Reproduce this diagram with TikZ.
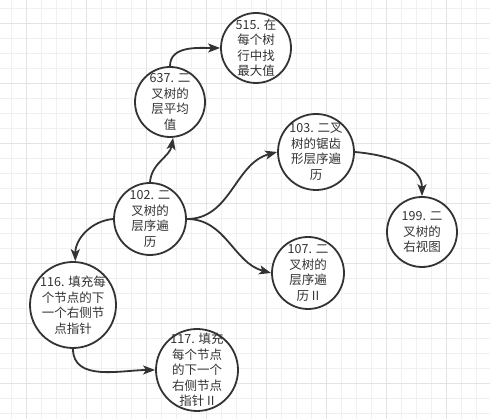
\documentclass[tikz,border=0pt]{standalone}
\usepackage{fontspec}
\newfontfamily\cjk{Noto Sans CJK SC}
\usetikzlibrary{arrows.meta}
\begin{document}
\begin{tikzpicture}[x=1pt,y=1pt,>={Stealth[length=12pt,width=9pt,inset=3pt]},
	vong/.style={circle,draw=black!80,line width=1.8pt,fill=white,inner sep=0pt,minimum size=#1},
	chu/.style={align=center,text=black!80,font=\cjk\fontsize{12.5}{15.5}\selectfont},
	noi/.style={->,draw=black!80,line width=1.8pt}]
	% nền lưới
	\fill[white] (0,0) rectangle (490,419);
	\useasboundingbox (0,0) rectangle (490,419);
	\foreach \i in {0,...,31} \draw[color=black!6,line width=1pt] ({11.7+15*\i},0) -- ({11.7+15*\i},419);
	\foreach \j in {0,...,27} \draw[color=black!6,line width=1pt] (0,{410.7-15*\j}) -- (490,{410.7-15*\j});
	\foreach \i in {0,...,7} \draw[color=black!11,line width=1pt] ({26.7+60*\i},0) -- ({26.7+60*\i},419);
	\foreach \j in {0,...,6} \draw[color=black!11,line width=1pt] (0,{395.7-60*\j}) -- (490,{395.7-60*\j});
	% các nút
	\node[vong=72pt,label={[chu]center:102. 二\\叉树的\\层序遍\\历}] (n102) at (150,200) {};
	\node[vong=70pt,label={[chu]center:637. 二\\叉树的\\层平均\\值}] (n637) at (170,317) {};
	\node[vong=70pt,label={[chu]center:515. 在\\每个树\\行中找\\最大值}] (n515) at (256,371) {};
	\node[vong=76pt,label={[chu]center:103. 二叉\\树的锯齿\\形层序遍\\历}] (n103) at (316,267) {};
	\node[vong=70pt,label={[chu]center:199. 二\\叉树的\\右视图}] (n199) at (422,187) {};
	\node[vong=72pt,label={[chu]center:107. 二\\叉树的\\层序遍\\历 II}] (n107) at (308,146) {};
	\node[vong=86pt,label={[chu]center:116. 填充每\\个节点的下\\一个右侧节\\点指针}] (n116) at (73,114) {};
	\node[vong=82pt,label={[chu]center:117. 填充\\每个节点\\的下一个\\右侧节点\\指针 II}] (n117) at (197,49) {};
	% các cạnh
	\draw[noi] (n102.north) to[out=85,in=-100] (n637.-85);
	\draw[noi] (n637.north) to[out=90,in=180] (n515.west);
	\draw[noi] (n102.east) to[out=0,in=195] (n103.west);
	\draw[noi] (n102.east) to[out=0,in=165] (n107.west);
	\draw[noi] (n103.east) to[out=-5,in=90] (n199.north);
	\draw[noi] (n102.west) to[out=185,in=90] (n116.87);
	\draw[noi] (n116.south) to[out=-90,in=180] (n117.west);
\end{tikzpicture}
\end{document}
